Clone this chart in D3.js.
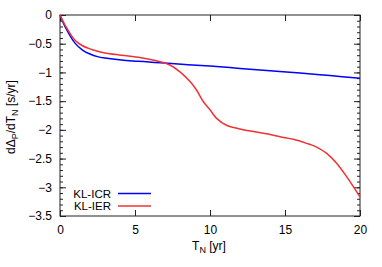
<!DOCTYPE html>
<html><head><meta charset="utf-8">
<script src="https://cdn.jsdelivr.net/npm/d3@7"></script>
<style>body{margin:0;background:#fff}svg{display:block}text{font-family:"Liberation Sans",Arial,sans-serif;}</style>
</head><body><svg id="c" width="382" height="267"></svg>
<script>
const xTicks = [0, 5, 10, 15, 20];
const yTicks = [0, -0.5, -1, -1.5, -2, -2.5, -3, -3.5];
const seriesNames = ["KL-ICR", "KL-IER"];
const seriesColors = ["#0000ff", "#f03232"];
const icrX = [0, 0.33, 1, 1.5, 2, 2.5, 3, 4.1, 5.2, 6.3, 7.2, 8.5, 10, 12, 14, 16, 18, 20];
const icrY = [0, -0.2, -0.49, -0.61, -0.68, -0.725, -0.75, -0.785, -0.805, -0.825, -0.84, -0.865, -0.89, -0.93, -0.97, -1.01, -1.055, -1.10];
const ierX = [0, 0.33, 1, 1.5, 2, 2.5, 3, 4.1, 5.4, 6.67, 7.33, 8, 8.67, 9.11, 9.56, 10, 10.44, 11.1, 12, 12.9, 14, 14.67, 15.56, 16.44, 17.11, 17.78, 18.44, 19.11, 19.56, 20];
const ierY = [0, -0.17, -0.44, -0.535, -0.59, -0.63, -0.66, -0.70, -0.745, -0.813, -0.87, -0.99, -1.16, -1.31, -1.51, -1.65, -1.80, -1.92, -1.985, -2.03, -2.08, -2.12, -2.165, -2.235, -2.30, -2.41, -2.58, -2.815, -2.99, -3.17];

const svg = d3.select("#c");
const L = 60, R = 360, T = 15, B = 216;
const x = d3.scaleLinear().domain([0, 20]).range([L, R]);
const y = d3.scaleLinear().domain([-3.5, 0]).range([B, T]);
const axisColor = "#222";
const fs = "12px";

const yMinor = d3.range(0, 36).map(i => -i / 10);
const g = svg.append("g");
const ax = (axis, tx, ty) => {
  const a = g.append("g").attr("transform", `translate(${tx},${ty})`).call(axis);
  a.select(".domain").remove();
  a.selectAll("line").attr("stroke", axisColor);
  a.selectAll("text").attr("fill", "#000").style("font-size", fs);
  return a;
};
ax(d3.axisLeft(y).tickValues(yMinor).tickSize(-3).tickFormat(""), L, 0);
ax(d3.axisRight(y).tickValues(yMinor).tickSize(-3).tickFormat(""), R, 0);
ax(d3.axisLeft(y).tickValues(yTicks).tickSize(-6).tickPadding(8).tickFormat(d => d === 0 ? "0" : d3.format("")(d)), L, 0);
ax(d3.axisRight(y).tickValues(yTicks).tickSize(-6).tickFormat(""), R, 0);
ax(d3.axisBottom(x).tickValues(xTicks).tickSize(-6).tickPadding(9), 0, B);
ax(d3.axisTop(x).tickValues(xTicks).tickSize(-6).tickFormat(""), 0, T);

g.append("rect").attr("x", L).attr("y", T).attr("width", R - L).attr("height", B - T)
  .attr("fill", "none").attr("stroke", axisColor).attr("stroke-width", 1);

const line = d3.line().x(d => x(d[0])).y(d => y(d[1])).curve(d3.curveCatmullRom.alpha(0.5));
const series = [d3.zip(icrX, icrY), d3.zip(ierX, ierY)];
series.forEach((s, i) => {
  svg.append("path").datum(s).attr("d", line).attr("fill", "none")
    .attr("stroke", seriesColors[i]).attr("stroke-width", 1.5);
});

seriesNames.forEach((n, i) => {
  const yy = 193.5 + i * 12.5;
  svg.append("text").attr("x", 111).attr("y", yy).attr("dy", "0.35em").attr("text-anchor", "end")
    .style("font-size", "11.5px").text(n);
  svg.append("line").attr("x1", 118).attr("x2", 151).attr("y1", yy).attr("y2", yy)
    .attr("stroke", seriesColors[i]).attr("stroke-width", 1.5);
});

const xl = svg.append("text").attr("x", 209).attr("y", 250).attr("text-anchor", "middle").style("font-size", fs);
xl.append("tspan").text("T");
xl.append("tspan").attr("dy", 3).style("font-size", "9px").text("N");
xl.append("tspan").attr("dy", -3).text(" [yr]");

const yl = svg.append("text").attr("transform", "translate(15,117) rotate(-90)").attr("text-anchor", "middle").style("font-size", fs);
yl.append("tspan").text("dΔ");
yl.append("tspan").attr("dy", 3).style("font-size", "9px").text("P");
yl.append("tspan").attr("dy", -3).text("/dT");
yl.append("tspan").attr("dy", 3).style("font-size", "9px").text("N");
yl.append("tspan").attr("dy", -3).text(" [s/yr]");
</script></body></html>
